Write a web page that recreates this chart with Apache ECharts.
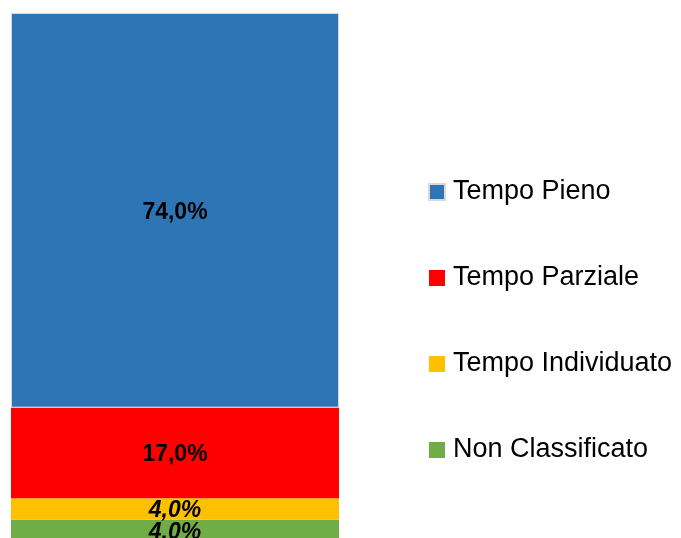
<!DOCTYPE html>
<html>
<head>
<meta charset="utf-8">
<script src="https://cdn.jsdelivr.net/npm/echarts@6/dist/echarts.min.js"></script>
<style>html,body{margin:0;padding:0;background:#fff;overflow:hidden;}#c{width:681px;height:546px;}</style>
</head>
<body>
<div id="c"></div>
<script>
var categories = ['Totale'];
var seriesNames = ['Non Classificato', 'Tempo Individuato', 'Tempo Parziale', 'Tempo Pieno'];
var seriesValues = [[4.0], [4.0], [17.0], [74.0]];
var seriesColors = ['#70ad47', '#ffc000', '#ff0000', '#2e75b6'];
var italicLabels = [true, true, false, false];

var chart = echarts.init(document.getElementById('c'));
var series = seriesNames.map(function (name, i) {
  return {
    name: name,
    type: 'bar',
    stack: 'total',
    barWidth: '100%',
    data: seriesValues[i],
    itemStyle: {
      color: seriesColors[i],
      borderColor: i === 3 ? '#d9d9d9' : seriesColors[i],
      borderWidth: i === 3 ? 1 : 0
    },
    label: {
      show: true,
      position: 'inside',
      offset: [0, 2],
      color: '#000',
      fontFamily: 'Liberation Sans',
      fontWeight: 'bold',
      fontStyle: italicLabels[i] ? 'italic' : 'normal',
      fontSize: 23,
      formatter: function (p) { return p.value.toFixed(1).replace('.', ',') + '%'; }
    },
    emphasis: { disabled: true }
  };
});

chart.setOption({
  animation: false,
  grid: { left: 11, top: 13, width: 328, height: 528 },
  xAxis: { type: 'category', data: categories, show: false },
  yAxis: { type: 'value', min: 0, max: 99, show: false },
  legend: {
    orient: 'vertical',
    left: 428,
    top: 177,
    padding: 0,
    icon: 'rect',
    itemWidth: 16,
    itemHeight: 16,
    itemGap: 56,
    data: seriesNames.slice().reverse(),
    textStyle: { fontFamily: 'Liberation Sans', fontSize: 27, color: '#000', lineHeight: 30, padding: [0, 0, 0, 3] },
    selectedMode: false
  },
  series: series
});
</script>
</body>
</html>
